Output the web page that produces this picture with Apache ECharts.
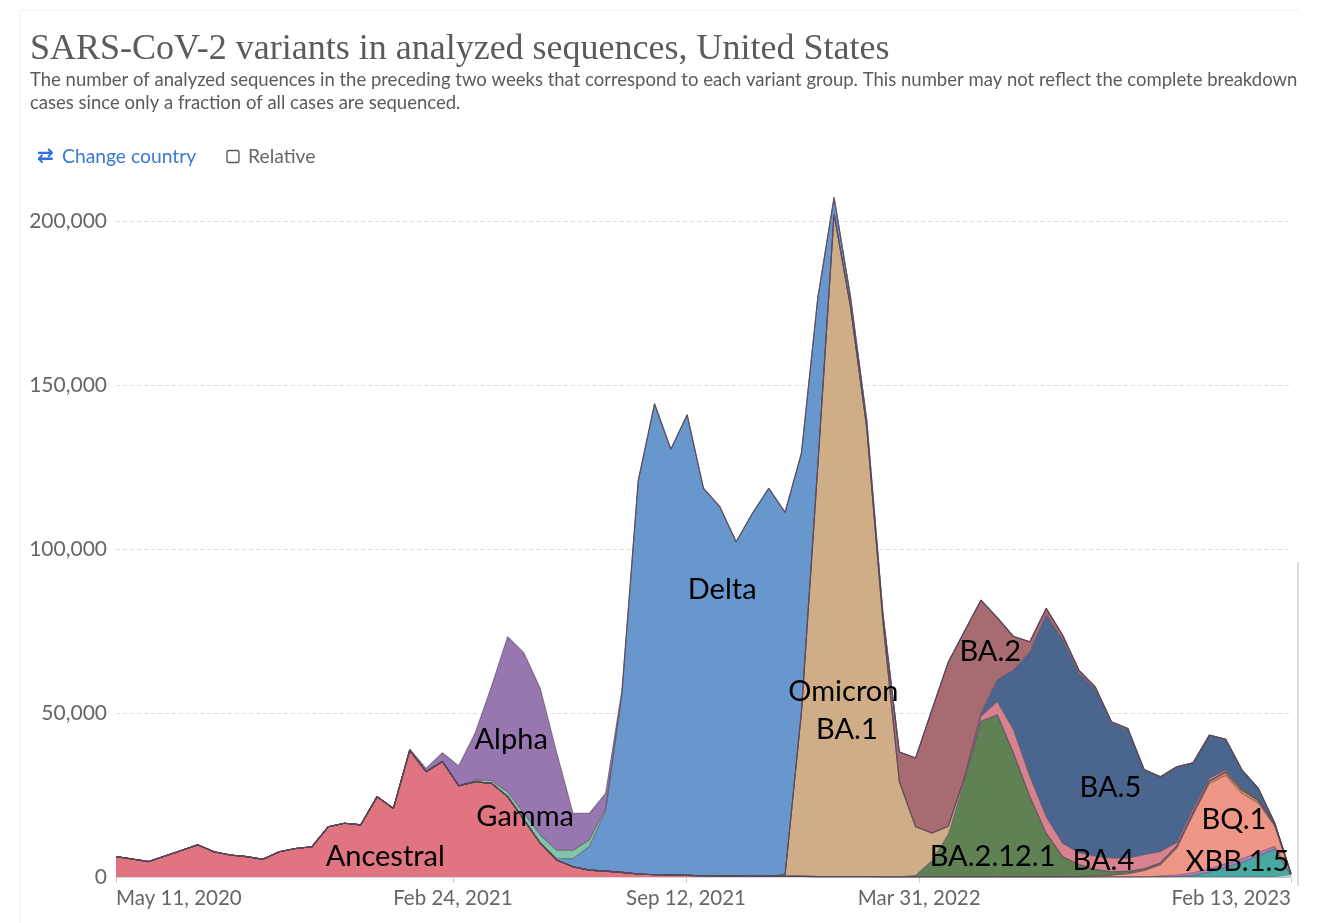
<!DOCTYPE html>
<html><head><meta charset="utf-8">
<script src="https://cdn.jsdelivr.net/npm/echarts@6/dist/echarts.min.js"></script>
<style>html,body{margin:0;padding:0;background:#fff;}#c{width:1322px;height:923px;}</style>
</head><body><div id="c"></div>
<script>
// biweekly sample dates
const dates = ['2020-05-11','2020-05-25','2020-06-08','2020-06-22','2020-07-06','2020-07-20','2020-08-03','2020-08-17','2020-08-31','2020-09-14',
'2020-09-28','2020-10-12','2020-10-26','2020-11-09','2020-11-23','2020-12-07','2020-12-21','2021-01-04','2021-01-18','2021-02-01',
'2021-02-15','2021-03-01','2021-03-15','2021-03-29','2021-04-12','2021-04-26','2021-05-10','2021-05-24','2021-06-07','2021-06-21',
'2021-07-05','2021-07-19','2021-08-02','2021-08-16','2021-08-30','2021-09-13','2021-09-27','2021-10-11','2021-10-25','2021-11-08',
'2021-11-22','2021-12-06','2021-12-20','2022-01-03','2022-01-17','2022-01-31','2022-02-14','2022-02-28','2022-03-14','2022-03-28',
'2022-04-11','2022-04-25','2022-05-09','2022-05-23','2022-06-06','2022-06-20','2022-07-04','2022-07-18','2022-08-01','2022-08-15',
'2022-08-29','2022-09-12','2022-09-26','2022-10-10','2022-10-24','2022-11-07','2022-11-21','2022-12-05','2022-12-19','2023-01-02',
'2023-01-16','2023-01-30','2023-02-13'];

const ancestral = [6200,5500,4700,6400,8100,9800,7700,6700,6200,5400,7700,8700,9200,15300,16400,15900,24500,20900,38700,32100,35200,27800,
29000,28600,24500,17400,10300,5200,3100,2100,1800,1400,
900,700,600,500,400,300,300,200,200,200,200,100,100,100,100,
0,0,0,0,0,0,0,0,0,0,0,0,0,0,0,0,0,0,0,0,0,0,0,0,0,0];
const xbb15 = [0,0,0,0,0,0,0,0,0,0,0,0,0,0,0,0,0,0,0,0,0,0,0,0,0,0,0,0,0,0,0,0,0,0,0,0,0,0,0,0,0,0,0,0,0,0,0,0,0,0,0,0,0,0,0,0,0,0,0,0,0,0,0,0,0,
100,500,1500,3000,4500,6500,8500,500];
const xbb = [0,0,0,0,0,0,0,0,0,0,0,0,0,0,0,0,0,0,0,0,0,0,0,0,0,0,0,0,0,0,0,0,0,0,0,0,0,0,0,0,0,0,0,0,0,0,0,0,0,0,0,0,0,0,0,0,0,0,0,0,0,0,0,0,
300,500,800,1000,1000,1000,1000,800,100];
const bq1 = [0,0,0,0,0,0,0,0,0,0,0,0,0,0,0,0,0,0,0,0,0,0,0,0,0,0,0,0,0,0,0,0,0,0,0,0,0,0,0,0,0,0,0,0,0,0,0,0,0,0,0,0,0,0,0,0,0,0,0,
100,300,600,1000,1900,3400,8200,17700,26000,27000,20000,15000,6200,300];
const ba275 = [0,0,0,0,0,0,0,0,0,0,0,0,0,0,0,0,0,0,0,0,0,0,0,0,0,0,0,0,0,0,0,0,0,0,0,0,0,0,0,0,0,0,0,0,0,0,0,0,0,0,0,0,0,0,0,0,0,0,0,0,0,0,
100,200,300,400,500,800,1000,1000,800,500,0];
const ba2121 = [0,0,0,0,0,0,0,0,0,0,0,0,0,0,0,0,0,0,0,0,0,0,0,0,0,0,0,0,0,0,0,0,0,0,0,0,0,0,0,0,0,0,0,0,0,0,0,0,0,
500,5000,13000,29300,47300,49400,37700,24500,13300,6200,3700,2000,1000,600,400,300,200,100,0,0,0,0,0,0];
const omicronBA1 = [0,0,0,0,0,0,0,0,0,0,0,0,0,0,0,0,0,0,0,0,0,0,0,0,0,0,0,0,0,0,0,0,0,0,0,0,0,0,0,0,0,
500,50000,125000,202000,174000,137000,77500,29100,14800,8400,2500,700,200,100,
0,0,0,0,0,0,0,0,0,0,0,0,0,0,0,0,0,0];
const ba4 = [0,0,0,0,0,0,0,0,0,0,0,0,0,0,0,0,0,0,0,0,0,0,0,0,0,0,0,0,0,0,0,0,0,0,0,0,0,0,0,0,0,0,0,0,0,0,0,0,0,0,0,0,
500,1500,4000,7100,6100,5100,4100,3600,4000,4200,4000,4300,3500,1100,1100,800,600,500,400,200,0];
const ba5 = [0,0,0,0,0,0,0,0,0,0,0,0,0,0,0,0,0,0,0,0,0,0,0,0,0,0,0,0,0,0,0,0,0,0,0,0,0,0,0,0,0,0,0,0,0,0,0,0,0,0,0,0,0,
1000,6600,18300,38100,61500,62200,54700,51000,41000,39200,25700,22600,22900,13900,13000,9200,5500,3200,300,100];
const ba2 = [0,0,0,0,0,0,0,0,0,0,0,0,0,0,0,0,0,0,0,0,0,0,0,0,0,0,0,0,0,0,0,0,0,0,0,0,0,0,0,0,0,0,0,0,0,0,0,
2000,9000,21000,37600,50000,44500,34400,19000,10200,3000,2000,1300,1000,700,500,400,300,200,200,200,200,200,100,100,0,0];
const delta = [0,0,0,0,0,0,0,0,0,0,0,0,0,0,0,0,0,0,0,0,0,0,0,0,0,0,0,
500,2500,7200,18300,54300,119700,143500,129800,140400,118100,112600,101900,110700,118300,110500,79000,51300,5100,3000,2300,500,
0,0,0,0,0,0,0,0,0,0,0,0,0,0,0,0,0,0,0,0,0,0,0,0,0];
const gamma = [0,0,0,0,0,0,0,0,0,0,0,0,0,0,0,0,0,0,0,0,0,
200,600,800,1500,2000,2500,2500,2500,2000,800,300,100,50,
0,0,0,0,0,0,0,0,0,0,0,0,0,0,0,0,0,0,0,0,0,0,0,0,0,0,0,0,0,0,0,0,0,0,0,0,0,0,0];
const alpha = [0,0,0,0,0,0,0,0,0,0,0,0,0,0,0,0,0,0,
300,1000,2700,5900,14200,28600,47300,48900,44700,29800,11400,8100,4600,1000,300,100,
0,0,0,0,0,0,0,0,0,0,0,0,0,0,0,0,0,0,0,0,0,0,0,0,0,0,0,0,0,0,0,0,0,0,0,0,0,0,0];

// stack order, bottom to top
const seriesNames = ['Ancestral','XBB.1.5','XBB','BQ.1','BA.2.75','BA.2.12.1','Omicron BA.1','BA.4','BA.5','BA.2','Delta','Gamma','Alpha'];
const seriesValues = [ancestral,xbb15,xbb,bq1,ba275,ba2121,omicronBA1,ba4,ba5,ba2,delta,gamma,alpha];
const seriesColors = ['#e07480','#47a9a1','#b27ec4','#ef9686','#cc8f55','#5f8154','#cfae87','#d7828f','#4a668e','#a86b72','#6897cd','#7fc5a7','#9877b0'];

const xTickDates = ['2020-05-11','2021-02-24','2021-09-12','2022-03-31','2023-02-13'];
const xTickLabels = ['May 11, 2020','Feb 24, 2021','Sep 12, 2021','Mar 31, 2022','Feb 13, 2023'];
const yTicks = [0,50000,100000,150000,200000];

// in-chart annotations: [text, date, value]
const annotations = [
  ['Ancestral','2020-12-28',6100],
  ['Gamma','2021-04-27',18300],
  ['Alpha','2021-04-15',41800],
  ['Delta','2021-10-13',87500],
  ['Omicron','2022-01-25',56400],
  ['BA.1','2022-01-28',44800],
  ['BA.2','2022-05-31',68600],
  ['BA.2.12.1','2022-06-02',6100],
  ['BA.4','2022-09-05',4900],
  ['BA.5','2022-09-11',27100],
  ['BQ.1','2022-12-26',17400],
  ['XBB.1.5','2022-12-29',4600]
];

const ts = s => Date.parse(s + 'T00:00:00Z');
const tickTs = xTickDates.map(ts);
const labelFont = 'Lato, "DejaVu Sans", sans-serif';

const chart = echarts.init(document.getElementById('c'), null, {renderer:'canvas'});

const series = seriesNames.map((name, k) => ({
  name: name, type:'line', stack:'total', showSymbol:false, symbol:'none', smooth:false,
  xAxisIndex:0, yAxisIndex:0,
  data: seriesValues[k],
  lineStyle:{width:1.1, color:'rgba(88,72,88,0.6)'},
  areaStyle:{color:seriesColors[k], opacity:1},
  itemStyle:{color:seriesColors[k]},
  emphasis:{disabled:true}
}));

const staticGraphics = [
  {type:'line', shape:{x1:20,y1:10,x2:1299,y2:10}, style:{stroke:'#eeeeee', lineWidth:1}, silent:true},
  {type:'line', shape:{x1:20,y1:10,x2:20,y2:923}, style:{stroke:'#eeeeee', lineWidth:1}, silent:true},
  {type:'line', shape:{x1:1298,y1:562,x2:1298,y2:886}, style:{stroke:'#d0d0d0', lineWidth:1.5}, silent:true},
  {type:'text', x:30, y:50, style:{text:'SARS-CoV-2 variants in analyzed sequences, United States', font:'36px "Liberation Serif", "DejaVu Serif", serif', fill:'#5b5b5b', textVerticalAlign:'middle'}},
  {type:'text', x:30, y:80, style:{text:'The number of analyzed sequences in the preceding two weeks that correspond to each variant group. This number may not reflect the complete breakdown', font:'18.5px Lato, sans-serif', fill:'#5b5b5b', textVerticalAlign:'middle'}},
  {type:'text', x:30, y:103, style:{text:'cases since only a fraction of all cases are sequenced.', font:'18.5px Lato, sans-serif', fill:'#5b5b5b', textVerticalAlign:'middle'}},
  {type:'text', x:37, y:157, style:{text:'⇄', font:'bold 20px "DejaVu Sans", sans-serif', fill:'#2f6fd8', textVerticalAlign:'middle'}},
  {type:'text', x:62, y:157, style:{text:'Change country', font:'19.3px Lato, sans-serif', fill:'#3a78d6', textVerticalAlign:'middle'}},
  {type:'rect', shape:{x:227, y:150.5, width:12, height:12, r:2}, style:{fill:'#fff', stroke:'#555', lineWidth:1.3}},
  {type:'text', x:248, y:157, style:{text:'Relative', font:'19.3px Lato, sans-serif', fill:'#666', textVerticalAlign:'middle'}}
];

chart.setOption({
  animation:false,
  grid:{left:116, right:31, top:188.2, bottom:46, containLabel:false},
  xAxis:[{
    type:'category', data:dates, boundaryGap:false,
    axisLine:{show:true, lineStyle:{color:'#d8d8d8'}},
    axisTick:{show:false}, axisLabel:{show:false}, splitLine:{show:false}
  },{
    type:'value', min:ts(dates[0]), max:ts(dates[dates.length-1]), position:'bottom',
    axisLine:{show:false},
    axisTick:{show:true, customValues:tickTs, length:6, lineStyle:{color:'#c8c8c8'}},
    axisLabel:{
      customValues:tickTs, color:'#666', fontFamily:labelFont, fontSize:20.5, margin:11,
      alignMinLabel:'left', alignMaxLabel:'right', hideOverlap:false,
      formatter: v => { const k = tickTs.indexOf(v); return k >= 0 ? xTickLabels[k] : ''; }
    },
    splitLine:{show:false}
  }],
  yAxis:{
    type:'value', min:0, max:210000, interval:50000,
    axisLine:{show:false}, axisTick:{show:false},
    axisLabel:{color:'#666', fontFamily:labelFont, fontSize:21, margin:9, showMaxLabel:false,
      formatter: v => yTicks.indexOf(v) >= 0 ? v.toLocaleString('en-US') : ''},
    splitLine:{show:true, showMaxLine:false, lineStyle:{color:'#dedede', type:[4,3], width:1}}
  },
  series: series,
  graphic: staticGraphics
});

const annGraphics = annotations.map(a => {
  const p = chart.convertToPixel({xAxisIndex:1, yAxisIndex:0}, [ts(a[1]), a[2]]);
  return {type:'text', x:p[0], y:p[1], z:100,
    style:{text:a[0], font:'29px Lato, "Open Sans", sans-serif', fill:'#000', textAlign:'center', textVerticalAlign:'middle'}};
});
chart.setOption({graphic: staticGraphics.concat(annGraphics)});
</script></body></html>
